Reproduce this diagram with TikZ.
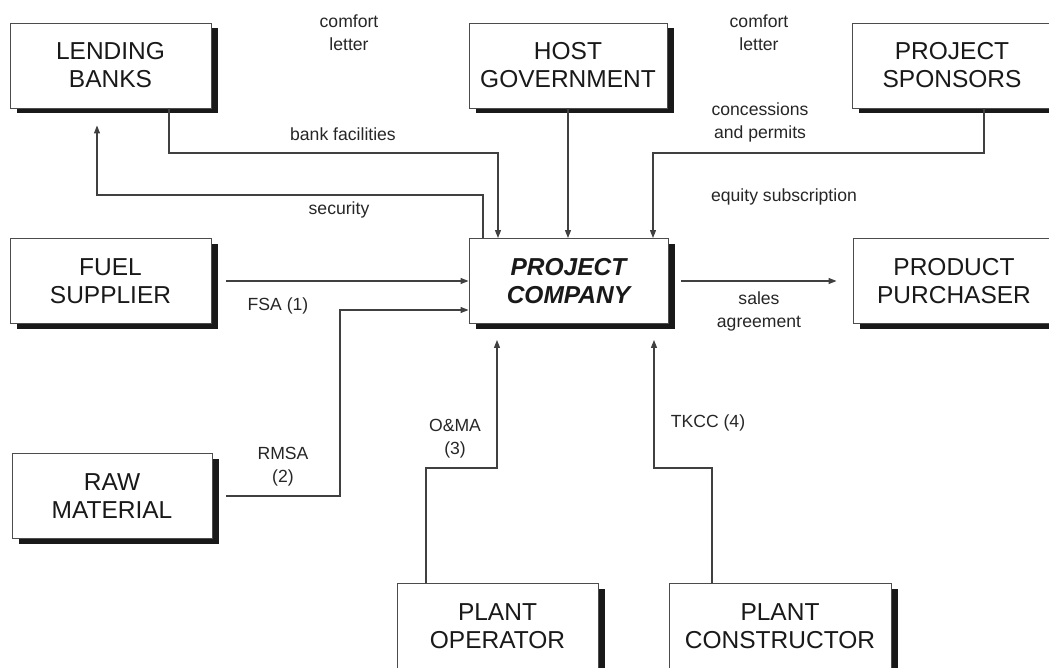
\documentclass[tikz,border=0pt]{standalone}
\usepackage{fontspec}
\setmainfont{Liberation Sans}
\usetikzlibrary{arrows.meta,shadows}

\begin{document}
\begin{tikzpicture}[x=1pt,y=-1pt,
    party/.style={draw=black!70, line width=0.9pt, fill=white, inner sep=0pt,
        minimum height=85pt, align=center, text=black!90,
        font=\fontsize{24.5}{28}\selectfont,
        drop shadow={shadow xshift=7pt, shadow yshift=-5pt, fill=black!90, opacity=1}},
    deal/.style={align=center, text=black!85, font=\fontsize{17.6}{23}\selectfont},
    flow/.style={draw=black!75, line width=1.1pt, -{Triangle[length=8pt,width=6pt]}}]
    \useasboundingbox (0,0) rectangle (1049,667);

    %% the parties round the project company
    \node[party, minimum width=201pt] (lenders) at (110.5,65.5) {LENDING\\BANKS};
    \node[party, minimum width=198pt] (hostgov) at (568,65.5) {HOST\\GOVERNMENT};
    \node[party, minimum width=200pt] (sponsors) at (952,65.5) {PROJECT\\SPONSORS};
    \node[party, minimum width=201pt] (fuel) at (110.5,281) {FUEL\\SUPPLIER};
    \node[party, minimum width=199pt,
        font=\fontsize{24.5}{28}\selectfont\bfseries\itshape] (company) at (568.5,281) {PROJECT\\COMPANY};
    \node[party, minimum width=202pt] (purchaser) at (954,281) {PRODUCT\\PURCHASER};
    \node[party, minimum width=200pt] (rawmat) at (112,496) {RAW\\MATERIAL};
    \node[party, minimum width=201pt] (operator) at (497.5,626) {PLANT\\OPERATOR};
    \node[party, minimum width=222pt] (constructor) at (780,626) {PLANT\\CONSTRUCTOR};

    %% contracts
    \draw[flow] (lenders.south -| 169,0) |- (498,153) -- (company.north -| 498,0);
    \draw[flow] (company.north -| 483,0) |- (97,195) -- ([yshift=-17pt]lenders.south -| 97,0);
    \draw[flow] (hostgov.south) -- (hostgov.south |- company.north);
    \draw[flow] (sponsors.south -| 984,0) |- (653,153) -- (company.north -| 653,0);
    \draw[flow] ([xshift=15pt]fuel.east) -- (fuel.east -| company.west);
    \draw[flow] ([xshift=14pt]rawmat.east) -| (340,310) -- (company.west |- 0,310);
    \draw[flow] (operator.north -| 426,0) |- (497,468) -- ([yshift=-16pt]company.south -| 497,0);
    \draw[flow] (constructor.north -| 712,0) |- (654,468) -- ([yshift=-16pt]company.south -| 654,0);
    \draw[flow] ([xshift=13pt]company.east) -- ([xshift=-16pt]purchaser.west);

    %% labels of the contracts
    \node[deal] (cmfleft) at (349,33) {comfort\\letter};
    \node[deal] (cmfright) at (759,33) {comfort\\letter};
    \node[deal] (bankfac) at (343,134) {bank facilities};
    \node[deal] (secur) at (339,210) {security};
    \node[deal] (concess) at (760,122) {concessions\\and permits};
    \node[deal] (equity) at (784,197) {equity subscription};
    \node[deal] (fsa) at (278,306) {FSA (1)};
    \node[deal] (rmsa) at (283,467) {RMSA\\(2)};
    \node[deal] (oma) at (455,439) {O\&MA\\(3)};
    \node[deal] (tkcc) at (708,423) {TKCC (4)};
    \node[deal] (sales) at (759,311) {sales\\agreement};
\end{tikzpicture}
\end{document}
